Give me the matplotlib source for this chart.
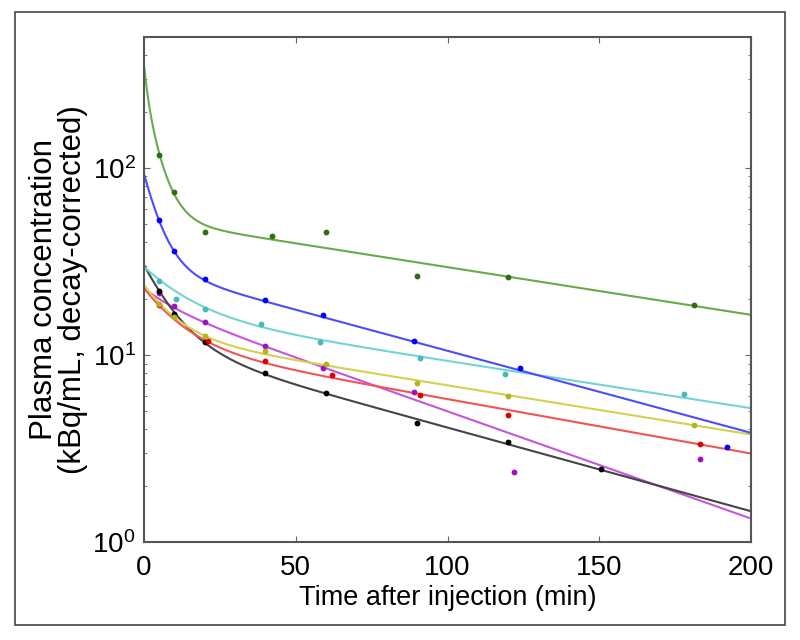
import numpy as np
import matplotlib
matplotlib.use("Agg")
import matplotlib.pyplot as plt
from matplotlib.patches import Rectangle

plt.rcParams['font.family'] = ['Liberation Sans', 'DejaVu Sans']
plt.rcParams['mathtext.fontset'] = 'custom'
plt.rcParams['mathtext.rm'] = 'Liberation Sans'

# ---- data: measured points (time in min, concentration kBq/mL) ----
green_t = [5, 10, 20, 42, 60, 90, 120, 181]
green_c = [117, 74, 45.4, 43.4, 45.2, 26.4, 26.0, 18.6]
blue_t = [5, 10, 20, 40, 59, 89, 124, 192]
blue_c = [52.6, 35.8, 25.5, 19.6, 16.3, 11.85, 8.5, 3.22]
cyan_t = [5, 10.5, 20, 38.5, 58, 91, 119, 178]
cyan_c = [25, 20, 17.6, 14.6, 11.75, 9.6, 7.9, 6.2]
yellow_t = [5, 10, 20, 40, 60, 90, 120, 181]
yellow_c = [18.8, 15.9, 12.7, 10.5, 8.9, 7.1, 6.0, 4.24]
red_t = [5, 21, 40, 62, 91, 120, 183]
red_c = [18.5, 11.9, 9.3, 7.84, 6.1, 4.8, 3.36]
magenta_t = [5, 10, 20, 40, 59, 89, 122, 183]
magenta_c = [21.5, 18.3, 15.0, 11.2, 8.57, 6.37, 2.38, 2.77]
black_t = [5, 10, 20, 40, 60, 90, 120, 150.5]
black_c = [22, 16.5, 11.7, 8.0, 6.26, 4.31, 3.43, 2.46]

# ---- fitted multi-exponential model parameters (A1, k1, A2, k2, A3, k3) ----
green_fit = [101, 0.8, 200, 0.22, 53, 0.00587]
blue_fit = [0, 1.0, 64, 0.19, 28.9, 0.0101]
cyan_fit = [0, 1.0, 13, 0.07, 16.6, 0.00581]
yellow_fit = [0, 1.0, 11.1, 0.10, 12.6, 0.00605]
red_fit = [0, 1.0, 11.35, 0.085, 11.35, 0.00670]
magenta_fit = [0, 1.0, 4.0, 0.10, 18.7, 0.0132]
black_fit = [0, 1.0, 18.8, 0.105, 11.46, 0.0103]

series = [
    (magenta_t, magenta_c, magenta_fit, '#c455dd', '#a010c0'),
    (black_t, black_c, black_fit, '#444444', '#000000'),
    (red_t, red_c, red_fit, '#f05555', '#e00000'),
    (yellow_t, yellow_c, yellow_fit, '#d2d24e', '#b4b41e'),
    (cyan_t, cyan_c, cyan_fit, '#72d4d4', '#4ab8b8'),
    (blue_t, blue_c, blue_fit, '#4c4cff', '#0000ff'),
    (green_t, green_c, green_fit, '#6aaa4c', '#2e6e12'),
]

fig = plt.figure(figsize=(8, 6.4), dpi=100)
ax = fig.add_axes([0.18, 0.153, 0.759, 0.789])

tt = np.linspace(0, 200, 801)
for t, c, p, lc, mc in series:
    y = p[0] * np.exp(-p[1] * tt) + p[2] * np.exp(-p[3] * tt) + p[4] * np.exp(-p[5] * tt)
    ax.plot(tt, y, color=lc, lw=1.5, zorder=2)
for t, c, p, lc, mc in series:
    ax.plot(t, c, 'o', color=mc, ms=4.2, mec='none', zorder=3)

ax.set_yscale('log')
ax.set_xlim(0, 200)
ax.set_ylim(1, 500)
ax.set_xticks([0, 50, 100, 150, 200])
ax.tick_params(which='both', direction='in', top=True, right=True, colors='#666666',
               labelcolor='black', labelsize=20)
ax.tick_params(which='major', length=4, width=0.8)
ax.tick_params(which='minor', length=2.5, width=0.6)
ax.tick_params(axis='x', pad=9)
ax.tick_params(axis='y', pad=6)
for s in ax.spines.values():
    s.set_color('#555555')
    s.set_linewidth(1.5)

ax.set_xlabel('Time after injection (min)', fontsize=19.5, labelpad=3)
ax.set_ylabel('Plasma concentration\n(kBq/mL, decay-corrected)', fontsize=22.5,
              linespacing=0.95, labelpad=3)

fig.patches.append(Rectangle((15 / 800, 1 - 625 / 640), 770 / 800, 613 / 640,
                             transform=fig.transFigure, fill=False,
                             edgecolor='#444444', lw=1.2))

fig.savefig('out.png', dpi=100)
